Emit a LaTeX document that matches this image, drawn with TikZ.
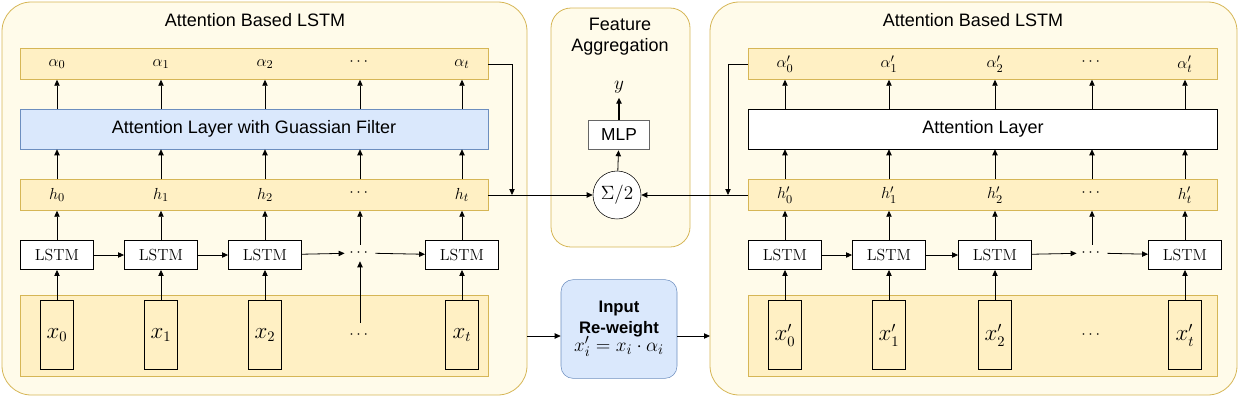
\documentclass[tikz,border=0pt]{standalone}
\usepackage{fontspec}
\setmainfont{Liberation Sans}
\newfontfamily\lmr{Latin Modern Roman}
\usepackage{amsmath}
\usetikzlibrary{arrows.meta,positioning}
\definecolor{cfill}{HTML}{FFFBEA}
\definecolor{cline}{HTML}{D6B656}
\definecolor{sfill}{HTML}{FFF0C4}
\definecolor{bfill}{HTML}{DAE8FC}
\definecolor{bline}{HTML}{6C8EBF}
\tikzset{
 x=0.75pt,y=-0.75pt,
 cont/.style={draw=cline,fill=cfill,rounded corners=22pt,line width=0.6pt},
 strip/.style={draw=cline,fill=sfill,line width=0.6pt},
 lstm/.style={draw,fill=white,minimum width=55pt,minimum height=22pt,inner sep=0pt,font=\fontsize{12}{14}\selectfont\lmr},
 xbox/.style={draw,fill=sfill,minimum width=25pt,minimum height=52pt,inner sep=0pt},
 arr/.style={-{Triangle[length=4.5pt,width=4pt]},line width=0.6pt},
 ttl/.style={font=\fontsize{13.5}{16}\selectfont},
 ml/.style={font=\fontsize{13}{15}\selectfont}
}
\begin{document}
\begin{tikzpicture}
\useasboundingbox (0,0) rectangle (1239,411);
% containers
\draw[cont] (2,2) rectangle (527,395);
\draw[cont] (710,2) rectangle (1237,395);
\draw[cont,rounded corners=15pt] (551,8) rectangle (690,247);
\node[ttl] (t1) at (255,20) {Attention Based LSTM};
\node[ttl] (t2) at (973,20) {Attention Based LSTM};
\node[ttl,align=center] (t3) at (620,37) {Feature\\Aggregation};
% left strips
\node[strip,minimum width=351pt,minimum height=23pt,inner sep=0pt] (A) at (254,64) {};
\node[draw=bline,fill=bfill,minimum width=351pt,minimum height=30pt,inner sep=0pt,font=\fontsize{13.5}{16}\selectfont] (L) at (254,129) {Attention Layer with Guassian Filter};
\node[strip,minimum width=351pt,minimum height=23pt,inner sep=0pt] (H) at (254,195) {};
\node[strip,minimum width=351pt,minimum height=61pt,inner sep=0pt] (X) at (254,336) {};
% right strips
\node[strip,minimum width=352pt,minimum height=23pt,inner sep=0pt] (A2) at (983,64) {};
\node[draw,fill=white,minimum width=352pt,minimum height=30pt,inner sep=0pt,font=\fontsize{13.5}{16}\selectfont] (L2) at (983,129) {Attention Layer};
\node[strip,minimum width=352pt,minimum height=23pt,inner sep=0pt] (H2) at (983,195) {};
\node[strip,minimum width=352pt,minimum height=61pt,inner sep=0pt] (X2) at (983,336) {};
% left columns
\foreach \i/\x/\a/\h/\xx in {0/57/\alpha_0/h_0/x_0,1/161/\alpha_1/h_1/x_1,2/265/\alpha_2/h_2/x_2,4/462/\alpha_t/h_t/x_t}{
 \node[ml] (a\i) at (\x,64) {$\a$};
 \node[ml] (h\i) at (\x,195) {$\h$};
 \node[lstm] (m\i) at (\x,255) {LSTM};
 \node[xbox,font=\fontsize{16}{18}\selectfont] (x\i) at (\x,335) {$\xx$};
 \draw[arr] (x\i) -- (m\i);
 \draw[arr] (m\i) -- (m\i|-H.south);
 \draw[arr] (m\i|-H.north) -- (m\i|-L.south);
 \draw[arr] (m\i|-L.north) -- (m\i|-A.south);
}
\node[ml] (a3) at (360,62) {$\cdots$};
\node[ml] (h3) at (360,193) {$\cdots$};
\node[ml] (m3) at (360,253) {$\cdots$};
\node[ml] (x3) at (360,335) {$\cdots$};
\coordinate (c3) at (360,323);
\draw[arr] (c3) -- (m3);
\draw[arr] (m3) -- (m3|-H.south);
\draw[arr] (m3|-H.north) -- (m3|-L.south);
\draw[arr] (m3|-L.north) -- (m3|-A.south);
\draw[arr] (m0) -- (m1);
\draw[arr] (m1) -- (m2);
\draw[arr] (m2) -- (m3);
\draw[arr] (m3) -- (m4);
% right columns
\foreach \i/\x/\a/\h/\xx in {0/785/\alpha'_0/h'_0/x'_0,1/889/\alpha'_1/h'_1/x'_1,2/995/\alpha'_2/h'_2/x'_2,4/1185/\alpha'_t/h'_t/x'_t}{
 \node[ml] (b\i) at (\x,64) {$\a$};
 \node[ml] (g\i) at (\x,195) {$\h$};
 \node[lstm] (n\i) at (\x,255) {LSTM};
 \node[xbox,font=\fontsize{16}{18}\selectfont] (y\i) at (\x,335) {$\xx$};
 \draw[arr] (y\i) -- (n\i);
 \draw[arr] (n\i) -- (n\i|-H2.south);
 \draw[arr] (n\i|-H2.north) -- (n\i|-L2.south);
 \draw[arr] (n\i|-L2.north) -- (n\i|-A2.south);
}
\node[ml] (b3) at (1092,62) {$\cdots$};
\node[ml] (g3) at (1092,193) {$\cdots$};
\node[ml] (n3) at (1092,253) {$\cdots$};
\node[ml] (y3) at (1092,335) {$\cdots$};
\draw[arr] (n3|-L2.north) -- (n3|-A2.south);
\draw[arr] (n3|-H2.north) -- (n3|-L2.south);
\draw[arr] (n3) -- (n3|-H2.south);
\draw[arr] (n0) -- (n1);
\draw[arr] (n1) -- (n2);
\draw[arr] (n2) -- (n3);
\draw[arr] (n3) -- (n4);
% aggregation
\node[draw,circle,fill=white,minimum size=36pt,inner sep=0pt,font=\fontsize{14}{16}\selectfont] (S) at (617,195) {$\Sigma/2$};
\node[draw=gray!80!black,fill=white,line width=0.9pt,minimum width=46pt,minimum height=22pt,inner sep=0pt,font=\fontsize{13}{15}\selectfont] (P) at (619,135) {MLP};
\node[font=\fontsize{15}{17}\selectfont] (Y) at (619,87) {$y$};
\draw[arr] (S) -- (P);
\draw[arr,line width=1pt] (P) -- (Y);
\draw[arr] (H.east) -- (S);
\draw[arr] (H2.west) -- (S);
\coordinate (k1) at (512,64);
\coordinate (k2) at (728,64);
\draw[arr] (A.east) -- (k1) -- (k1|-H.east);
\draw[arr] (A2.west) -- (k2) -- (k2|-H2.west);
% reweight
\node[draw=bline,fill=bfill,rounded corners=9pt,minimum width=87pt,minimum height=74pt,inner sep=0pt,align=center,font=\fontsize{12.5}{16}\selectfont] (R) at (619,329) {\textbf{Input}\\\textbf{Re-weight}\\[-3pt]{\fontsize{15}{17}\selectfont$x'_i=x_i\cdot\alpha_i$}};
\coordinate (e1) at (527,336);
\coordinate (e2) at (710,336);
\draw[arr] (e1) -- (R.west|-e1);
\draw[arr] (R.east|-e2) -- (e2);
\end{tikzpicture}
\end{document}
